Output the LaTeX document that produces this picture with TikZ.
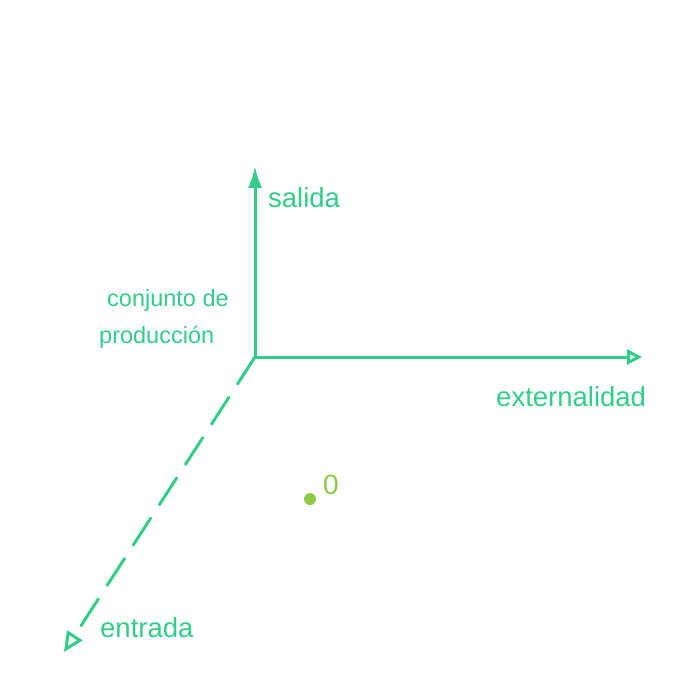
\documentclass[tikz,border=0pt]{standalone}
\usepackage{fontspec}
\setmainfont{Liberation Sans}
\usetikzlibrary{arrows.meta}
\definecolor{axgreen}{RGB}{51,204,136}
\definecolor{ptgreen}{RGB}{140,204,68}
\tikzset{
  axis/.style={draw=axgreen, line width=3pt, line cap=round},
  lbl/.style={text=axgreen, font=\fontsize{27.5}{30}\selectfont, inner sep=0pt},
  lblsmall/.style={text=axgreen, font=\fontsize{23.5}{26}\selectfont, inner sep=0pt, align=left}
}
\begin{document}
\begin{tikzpicture}[x=1pt,y=-1pt]
\useasboundingbox[fill=white] (0,0) rectangle (700,700);
\coordinate (O) at (255,357);
\coordinate (Y) at (255,166);
\coordinate (X) at (642,357);
\coordinate (Z) at (64,652);
\draw[axis, -{Latex[length=22pt,width=14pt]}] (O) -- (Y);
\draw[axis, -{Triangle[open,length=15pt,width=15pt,line width=3pt]}] (O) -- (X);
\draw[axis, dash pattern=on 32pt off 16pt, -{Triangle[open,length=20pt,width=18pt,line width=3pt]}] (O) -- (Z);
\node[lbl, anchor=west] (salida) at (268,198) {salida};
\node[lbl, anchor=west] (ext) at (496,397) {externalidad};
\node[lbl, anchor=west] (ent) at (100,628) {entrada};
\node[lblsmall, anchor=west] (conj) at (107,300) {conjunto de};
\node[lblsmall, anchor=west] (prod) at (99,337) {producción};
\node[text=ptgreen, font=\fontsize{28}{30}\selectfont, inner sep=0pt] (zero) at (331,485) {0};
\fill[ptgreen] (310,499) circle (6pt);
\end{tikzpicture}
\end{document}
